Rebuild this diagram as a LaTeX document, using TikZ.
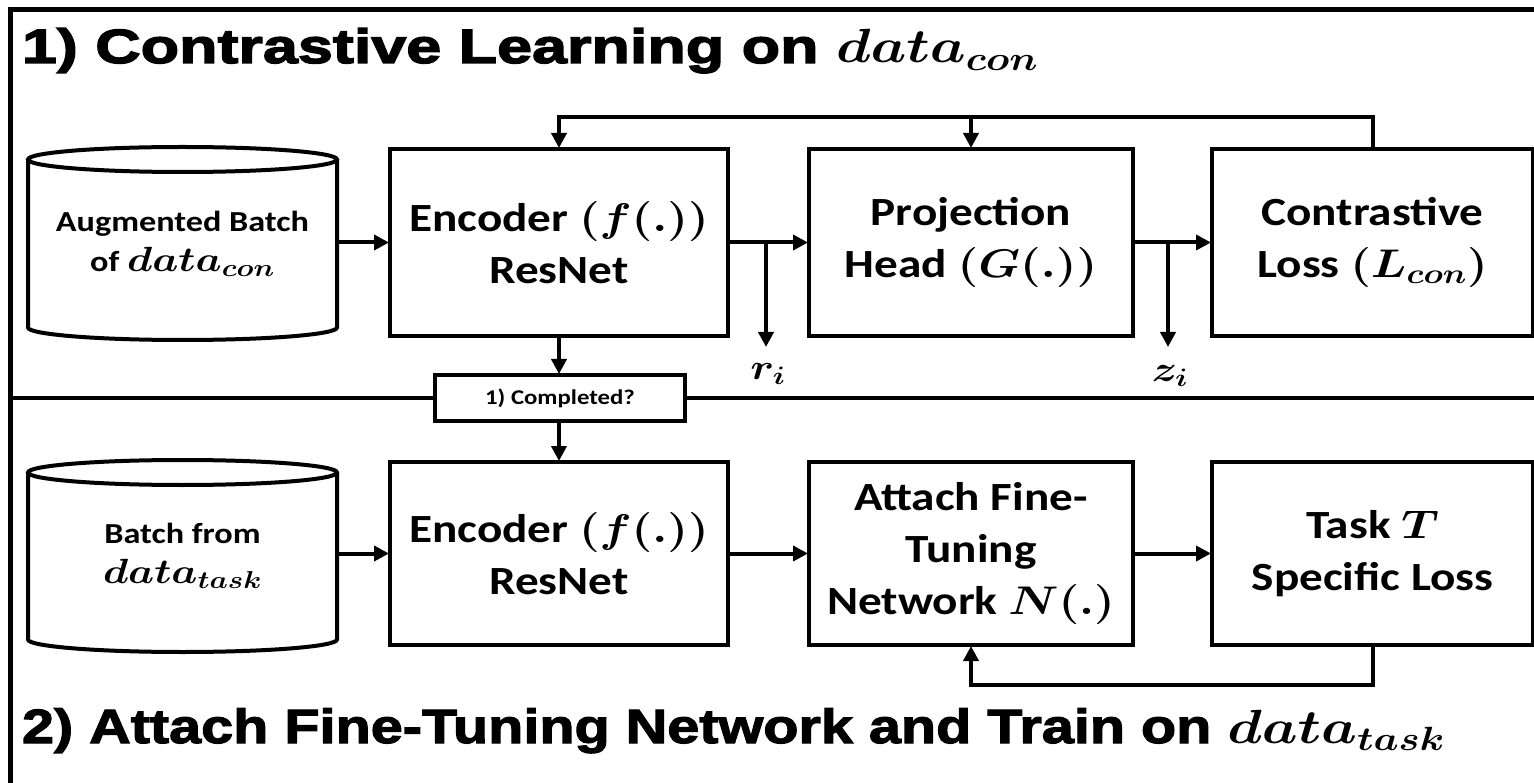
\RequirePackage{fix-cm}
\documentclass[tikz,border=0pt]{standalone}
\usepackage{amsmath}
\usepackage[no-math]{fontspec}
\setmainfont{Carlito}[FakeStretch=1.18]
\newfontfamily\titlefont{Liberation Sans}[FakeStretch=1.2,BoldFeatures={FakeBold=2.5}]
\newfontfamily\titlefontA{Liberation Sans}[FakeStretch=1.31,BoldFeatures={FakeBold=3}]
\newcommand\mth[1]{\scalebox{1.18}[1]{$#1$}}
\usetikzlibrary{arrows.meta}
\begin{document}
\begin{tikzpicture}[x=1pt,y=-1pt,
  every node/.style={inner sep=0pt,outer sep=0pt},
  boxnode/.style={draw,line width=4pt,fill=white,align=center,
    font=\fontsize{40}{52}\selectfont\bfseries\boldmath},
  cylnode/.style={align=center,font=\fontsize{29}{40}\selectfont\bfseries\boldmath},
  conn/.style={line width=4pt},
  arr/.style={line width=4pt,-{Triangle[length=15pt,width=15pt]},shorten >=1pt},
  lbl/.style={font=\fontsize{36}{40}\selectfont\boldmath},
  ttl/.style={anchor=base west,font=\fontsize{48}{56}\selectfont\bfseries\boldmath}]
\useasboundingbox (0,0) rectangle (1534,783);
\fill[white] (0,0) rectangle (1534,783);
% outer frame
\draw[line width=5pt] (10,900) -- (10,10) -- (1700,10);
% titles
\node[ttl] (t1) at (22,63) {\titlefontA\bfseries 1) Contrastive Learning on \mth{data_{con}}};
\node[ttl] (t2) at (22,743) {\titlefont\bfseries 2) Attach Fine-Tuning Network and Train on \mth{data_{task}}};
% top row
\node[cylnode,minimum width=309pt,minimum height=193pt] (c1) at (182.5,243.5) {Augmented Batch\\ of {\fontsize{35}{40}\selectfont\mth{data_{con}}}};
\node[boxnode,minimum width=338pt,minimum height=187pt] (enc1) at (559,242.5) {Encoder \mth{(f(.))}\\ ResNet};
\node[boxnode,minimum width=324pt,minimum height=187pt] (proj) at (971,242.5) {Projection\\ Head \mth{(G(.))}};
\node[boxnode,minimum width=321pt,minimum height=187pt] (loss) at (1372.5,242.5) {Contrastive\\ Loss \mth{(L_{con})}};
% bottom row
\node[cylnode,minimum width=309pt,minimum height=192pt] (c2) at (182.5,556) {Batch from\\ {\fontsize{35}{40}\selectfont\mth{data_{task}}}};
\node[boxnode,minimum width=338pt,minimum height=183pt] (enc2) at (559,553.5) {Encoder \mth{(f(.))}\\ ResNet};
\node[boxnode,minimum width=324pt,minimum height=183pt] (att) at (971,553.5) {Attach Fine-\\ Tuning\\ Network \mth{N(.)}};
\node[boxnode,minimum width=321pt,minimum height=183pt] (task) at (1372.5,553.5) {Task \mth{T}\\ Specific Loss};
% cylinders
\foreach \c in {c1,c2}{
  \draw[conn] ([yshift=-12.5pt]\c.north west) -- ([yshift=12.5pt]\c.south west)
     arc[start angle=180,end angle=360,x radius=154.5pt,y radius=12.5pt]
     -- ([yshift=-12.5pt]\c.north east);
  \draw[conn] ([yshift=-12.5pt]\c.north) ellipse [x radius=154.5pt,y radius=12.5pt];
}
% divider and completed box
\node[draw,line width=4pt,fill=white,minimum width=250pt,minimum height=46pt,
  font=\fontsize{21}{24}\selectfont\bfseries] (comp) at (560,398) {1) Completed?};
\draw[conn] (10,398) -- (comp.west);
\draw[conn] (comp.east) -- (1540,398);
% top connectors
\draw[arr] (c1.east |- enc1.west) -- (enc1.west);
\draw[arr] (enc1.east) -- (proj.west);
\draw[arr] (proj.east) -- (loss.west);
\coordinate (rsplit) at (766,242.5);
\coordinate (rend) at (766,348);
\draw[arr] (rsplit) -- (rend);
\node[lbl] (ri) at (768,374) {\mth{r_i}};
\coordinate (zsplit) at (1168,242.5);
\coordinate (zend) at (1168,348);
\draw[arr] (zsplit) -- (zend);
\node[lbl] (zi) at (1170,376) {\mth{z_i}};
\coordinate (fbtop) at (1372.5,117);
\draw[arr] (loss.north) -- (fbtop) -| (enc1.north);
\draw[arr] (proj.north |- fbtop) -- (proj.north);
% completion connectors
\draw[arr] (enc1.south) -- (comp.north -| enc1.south);
\draw[arr] (comp.south -| enc2.north) -- (enc2.north);
% bottom connectors
\draw[arr] (c2.east |- enc2.west) -- (enc2.west);
\draw[arr] (enc2.east) -- (att.west);
\draw[arr] (att.east) -- (task.west);
\coordinate (fbbot) at (1372.5,685);
\draw[arr] (task.south) -- (fbbot) -| (att.south);
\end{tikzpicture}
\end{document}
